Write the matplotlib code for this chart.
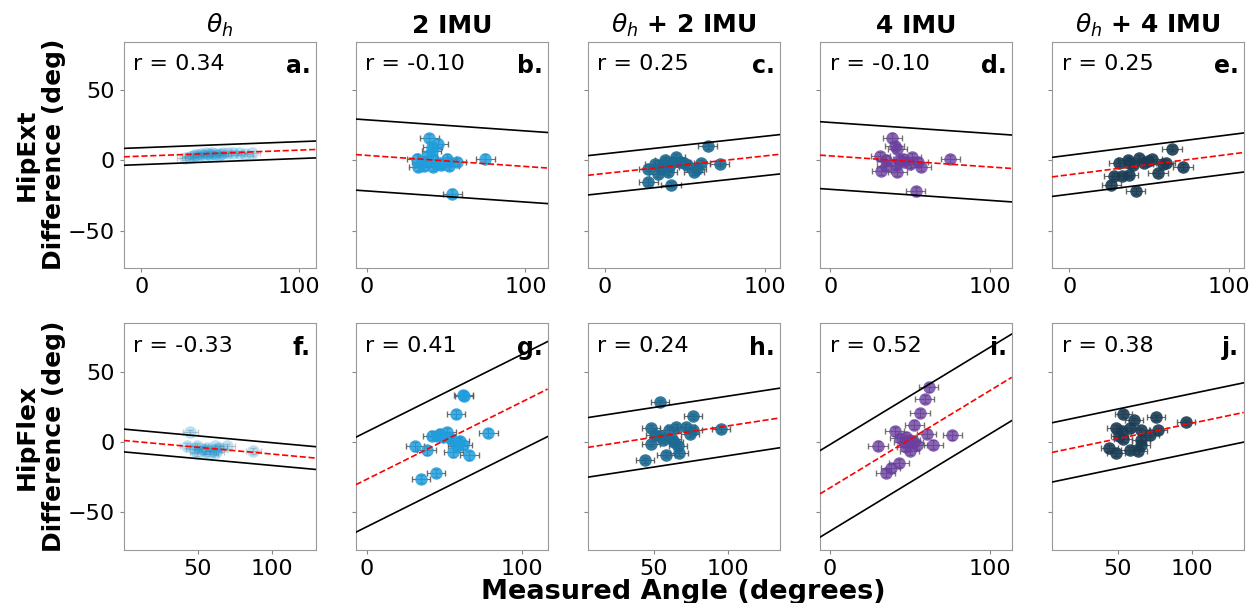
import numpy as np
import matplotlib
matplotlib.use('Agg')
import matplotlib.pyplot as plt

# ---- data ----
titles = ['$\\theta_h$', '2 IMU', '$\\theta_h$ + 2 IMU', '4 IMU', '$\\theta_h$ + 4 IMU']
letters = ['a.', 'b.', 'c.', 'd.', 'e.', 'f.', 'g.', 'h.', 'i.', 'j.']
r_vals = [0.34, -0.10, 0.25, -0.10, 0.25, -0.33, 0.41, 0.24, 0.52, 0.38]
row_labels = ['HipExt\nDifference (deg)', 'HipFlex\nDifference (deg)']

# regression line (difference vs measured angle) and 95% limits half-width
intercepts = [2.9, 3.45, -9.4, 3.1, -10.3, 1.1, -26.5, -4.8, -32.6, -8.7]
slopes = [0.043, -0.079, 0.125, -0.079, 0.145, -0.097, 0.551, 0.163, 0.693, 0.221]
loas = [6.0, 25.3, 14.0, 23.8, 13.9, 8.1, 33.8, 21.2, 30.8, 21.1]

a_x = [28, 31, 34, 36, 38, 40, 41, 43, 45, 47, 49, 52, 55, 58, 62, 66, 70, 33, 44, 50]
a_y = [1.5, 2.5, 3.5, 4, 4.5, 3.8, 5, 4.2, 5, 4.5, 4, 5, 4.8, 5.2, 5, 4.5, 4.8, 3, 3.6, 4.4]

b_x = [39.2, 45.1, 41.3, 41, 31.4, 34.6, 32.5, 41.6, 42, 46.2, 50.4, 51.9, 56.8, 52, 74.7, 54, 36, 44, 38, 47]
b_y = [15.9, 11.9, 9.5, 6.4, 1.2, -1.2, -4.8, -4.8, 1.2, -2.3, 1.2, -4.3, -1.2, -1.2, 1.2, -23.7, -4, -3, 3, -3.5]

c_x = [64.2, 27, 31.2, 37.5, 44.2, 46.9, 51.5, 59.8, 71.5, 57.3, 55.6, 33.3, 39.2, 27, 41.2, 36.4, 40.2, 49.4, 35, 42.4]
c_y = [10.0, -5.9, -2.4, 0, 2.4, -1.2, -3.6, -1.9, -2.4, -5.9, -8.3, -10, -8.3, -15.4, -17.3, -2.4, -4.7, -1.9, -5.9, -1]

d_x = [38.8, 40.3, 41.8, 31.3, 35.1, 45.5, 50.8, 55, 56.7, 74.9, 31.9, 42, 35.1, 40.9, 53.5, 46.3, 43, 49.6]
d_y = [16.1, 10, 8.3, 2.8, 0.5, 1.2, 2.4, -1.2, -4.7, 0.7, -7.8, -8.3, -4.3, -3.6, -22.1, -1.2, 0, -2.4]

e_x = [64.2, 30.8, 36.7, 43.5, 51.9, 46.5, 60.3, 71.1, 55.5, 27.7, 32.9, 37.1, 26.2, 41.5, 37.6, 40.1, 49.1, 58.5]
e_y = [8.3, -1.9, 0.5, 1.9, 1.2, -1.9, -1.9, -4.7, -9, -11.2, -11.2, -10.4, -17.8, -22.1, -1.9, -3.6, -0.2, -2.6]

f_x = [45.1, 42.9, 49.6, 56.3, 60.8, 69.8, 87.2, 49.6, 58.5, 62.4, 53.1, 64.4, 47.4, 55.2, 61.7]
f_y = [6.8, -2.6, -2.6, -4.3, -5.5, -3.1, -6.2, -7.8, -8.3, -7.4, -5, -4.3, -5, -6.7, -3.1]

g_x = [62.2, 57.5, 78.3, 31.1, 38.6, 44.6, 34.8, 41.9, 47.2, 51.5, 53.6, 60.1, 61.8, 55.8, 66.1, 58.3, 49, 45.5, 54.9, 62.6]
g_y = [33.6, 20.1, 6.4, -3.1, -6, -22, -26.3, 4.5, 5.9, 6.8, 2.8, 0.9, -1.9, -7.4, -9.5, -2.6, 3.8, 4.5, 1.4, 33]

h_x = [54, 76.3, 48.5, 60.2, 65.2, 71.9, 76.3, 95.3, 74.1, 50.7, 54, 56.2, 48.5, 63.6, 66.3, 66.8, 58, 44.4, 62.1]
h_y = [28.2, 18.2, 10, 8.7, 10.6, 10.6, 8.3, 9.2, 5.9, 5.2, 4.5, 1.2, -1.2, -0.3, -3.1, -7.8, -9, -13.1, 2]

i_x = [61.7, 59.2, 56.1, 52.5, 40.4, 60.3, 76.3, 29.9, 43.5, 47.7, 50.2, 54.4, 47.7, 64.4, 49.7, 43.1, 37.8, 34.7, 52.3, 46]
i_y = [38.8, 30.6, 20.6, 12.3, 7.5, 5.9, 4.7, -2.6, 2.8, 3.9, 1.2, -2.4, -3.5, -1.9, -6.5, -14.9, -18.5, -22, 0.1, 0.1]

j_x = [53.8, 60.8, 75.8, 95.5, 48.5, 58.3, 65.3, 76.9, 71.3, 51.1, 53.6, 65.3, 44.4, 48.9, 57.9, 63.5, 65.3, 52.7]
j_y = [20.1, 15.4, 17.5, 14, 9.9, 9.9, 8.3, 8.3, 5.2, 4.5, 2.1, 1.6, -4.3, -7.8, -5.5, -6.7, -2.4, 7.6]

xs = [a_x, b_x, c_x, d_x, e_x, f_x, g_x, h_x, i_x, j_x]
ys = [a_y, b_y, c_y, d_y, e_y, f_y, g_y, h_y, i_y, j_y]
x_err = [5, 6, 6, 6, 6, 5, 6, 6, 6, 6]
y_err = [1.5, 3, 2, 3, 2, 2, 3, 2, 3, 2]

# ---- styling ----
colors = ['#1f9ede', '#1f9ede', '#1c6a93', '#6b3fa0', '#1a3d55']
alphas = [0.3, 0.85, 0.9, 0.8, 0.9]
xlims = [(-11, 110.4), (-7, 114), (-10.6, 109), (-6.5, 113.4), (-10.8, 109),
         (0.3, 129.1), (-7.1, 116.4), (6, 134.3), (-6.3, 113.4), (5.8, 134.5)]
xticks = [[0, 100]] * 5 + [[50, 100], [0, 100], [50, 100], [0, 100], [50, 100]]

fig, axes = plt.subplots(2, 5, figsize=(12.5, 6.03), dpi=100, sharey=True)
fig.subplots_adjust(left=0.099, right=0.995, top=0.931, bottom=0.0887,
                    wspace=0.21, hspace=0.246)

for k, ax in enumerate(axes.flat):
    col = k % 5
    ax.errorbar(xs[k], ys[k], xerr=x_err[k], yerr=y_err[k], fmt='o',
                ms=9, color=colors[col], alpha=alphas[col], mec='none',
                ecolor='#555555', elinewidth=0.8, capsize=2, zorder=2)
    ax.axline((0, intercepts[k]), slope=slopes[k], color='r', ls='--', lw=1.2, zorder=3)
    ax.axline((0, intercepts[k] + loas[k]), slope=slopes[k], color='k', lw=1.2, zorder=3)
    ax.axline((0, intercepts[k] - loas[k]), slope=slopes[k], color='k', lw=1.2, zorder=3)

    ax.set_xlim(xlims[k])
    ax.set_ylim(-76.5, 84.4)
    ax.set_xticks(xticks[k])
    ax.set_yticks([-50, 0, 50])
    ax.tick_params(labelsize=16, color='#888888', length=3)
    for s in ax.spines.values():
        s.set_color('#999999')

    ax.text(0.05, 0.945, 'r = %.2f' % r_vals[k], transform=ax.transAxes,
            fontsize=16, va='top', ha='left')
    ax.text(0.975, 0.945, letters[k], transform=ax.transAxes,
            fontsize=17, fontweight='bold', va='top', ha='right')

    if k < 5:
        ax.set_title(titles[k], fontsize=18, fontweight='bold', pad=6)
    if col == 0:
        ax.set_ylabel(row_labels[k // 5], fontsize=18, fontweight='bold', labelpad=1)

fig.text(0.547, 0.006, 'Measured Angle (degrees)', ha='center', va='baseline',
         fontsize=19.5, fontweight='bold')

plt.savefig('out.png', dpi=100)
